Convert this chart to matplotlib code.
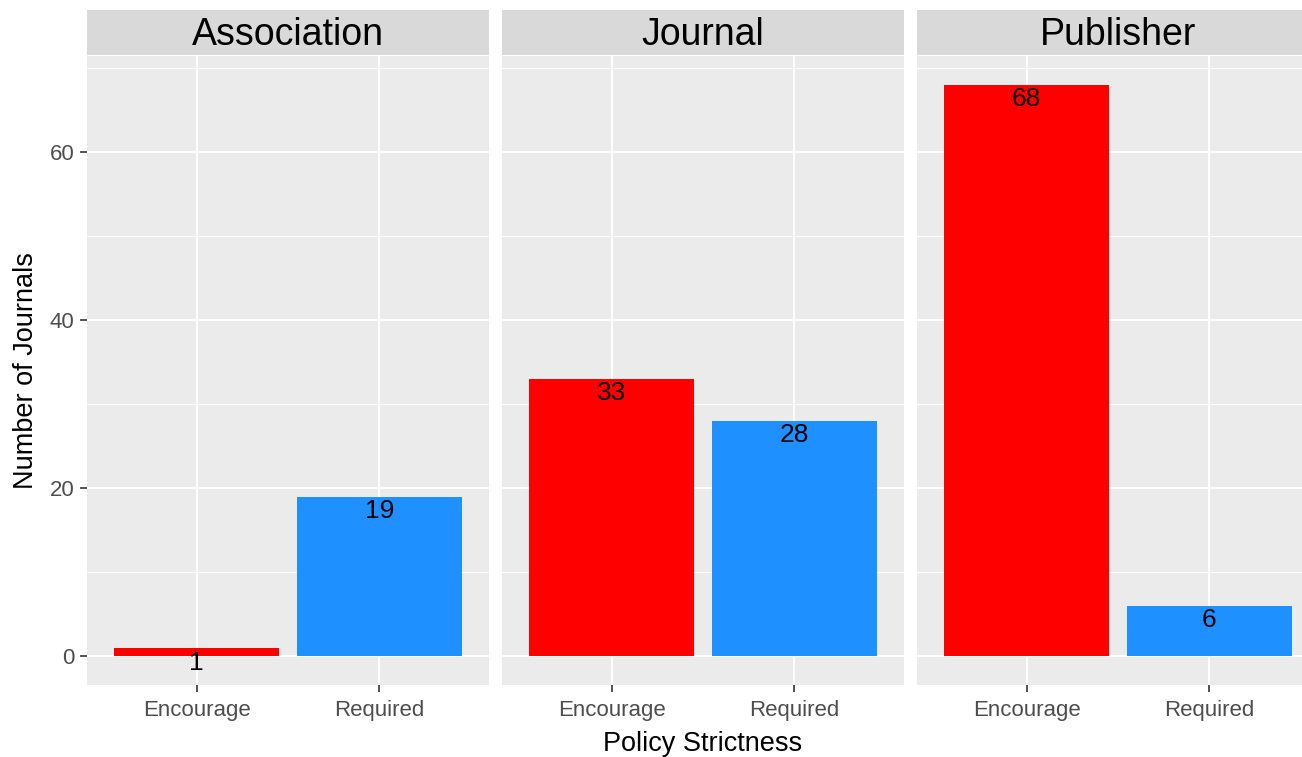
"""
Faceted bar chart: journals by policy strictness, one panel per policy source.
"""

import matplotlib
matplotlib.use("Agg")
import matplotlib.pyplot as plt

# Data
sources = ["Association", "Journal", "Publisher"]
strictness = ["Encourage", "Required"]
encourage_counts = [1, 33, 68]
required_counts = [19, 28, 6]
bar_colors = ["#FF0000", "#1E90FF"]
y_ticks = [0, 20, 40, 60]

plt.rcParams['font.family'] = ['Liberation Sans', 'DejaVu Sans']

fig = plt.figure(figsize=(13.02, 7.57), dpi=100)
W, H = 1302, 757


def px_axes(left, top, right, bottom):
    return fig.add_axes([left / W, 1 - bottom / H, (right - left) / W, (bottom - top) / H])


panel_lefts = [87, 502, 917]
panel_width = 402
ymax = max(max(encourage_counts), max(required_counts))
ylim = (-0.05 * ymax, 1.05 * ymax)

for i, src in enumerate(sources):
    left = panel_lefts[i]
    ax = px_axes(left, 56, left + panel_width, 685)
    ax.set_facecolor("#EBEBEB")
    x = [1, 2]
    vals = [encourage_counts[i], required_counts[i]]
    ax.set_xlim(0.4, 2.6)
    ax.set_ylim(*ylim)
    # grid
    for yv in [10, 30, 50, 70]:
        ax.axhline(yv, color="white", lw=0.7, zorder=0)
    for yv in y_ticks:
        ax.axhline(yv, color="white", lw=1.4, zorder=0)
    for xv in x:
        ax.axvline(xv, color="white", lw=1.4, zorder=0)
    ax.bar(x, vals, width=0.9, color=bar_colors, zorder=2)
    for xv, v in zip(x, vals):
        ax.text(xv, v - 0.3, str(v), ha="center", va="top", fontsize=19, color="black", zorder=3)
    for s in ax.spines.values():
        s.set_visible(False)
    ax.set_xticks(x)
    ax.set_xticklabels(strictness, fontsize=16, color="#4D4D4D")
    ax.tick_params(axis="x", length=5, width=1.2, color="#333333", pad=6)
    ax.set_yticks(y_ticks)
    if i == 0:
        ax.set_yticklabels([str(t) for t in y_ticks], fontsize=16, color="#4D4D4D")
        ax.tick_params(axis="y", length=5, width=1.2, color="#333333", pad=4)
        ax.set_ylabel("Number of Journals", fontsize=19.5, labelpad=8)
    else:
        ax.tick_params(axis="y", length=0, labelleft=False)
    if i == 1:
        ax.set_xlabel("Policy Strictness", fontsize=19.5, labelpad=7)

    # strip
    sax = px_axes(left, 10, left + panel_width, 55)
    sax.set_facecolor("#D9D9D9")
    sax.set_xticks([])
    sax.set_yticks([])
    for s in sax.spines.values():
        s.set_visible(False)
    sax.text(0.5, 0.44, src, ha="center", va="center", fontsize=27, color="black",
             transform=sax.transAxes)

fig.savefig("out.png", dpi=100)
